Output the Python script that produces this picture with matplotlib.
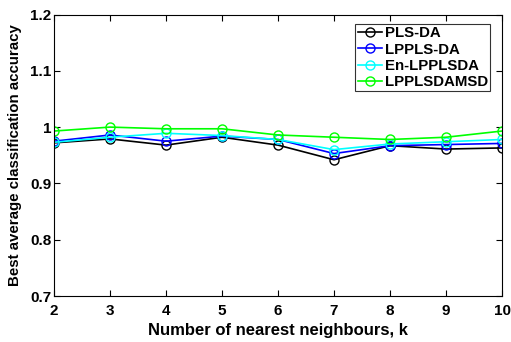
import matplotlib
matplotlib.use("Agg")
import matplotlib.pyplot as plt

plt.rcParams['font.family'] = ['Liberation Sans', 'DejaVu Sans']
plt.rcParams['font.weight'] = 'bold'

k = [2, 3, 4, 5, 6, 7, 8, 9, 10]
pls_da      = [0.972, 0.979, 0.968, 0.982, 0.968, 0.942, 0.967, 0.961, 0.963]
lppls_da    = [0.975, 0.986, 0.975, 0.984, 0.978, 0.953, 0.967, 0.969, 0.971]
en_lpplsda  = [0.973, 0.982, 0.989, 0.985, 0.978, 0.960, 0.970, 0.974, 0.978]
lpplsdamsd  = [0.993, 1.000, 0.997, 0.997, 0.986, 0.982, 0.978, 0.982, 0.993]

series = [(pls_da, 'PLS-DA', 'black'),
          (lppls_da, 'LPPLS-DA', '#0000ff'),
          (en_lpplsda, 'En-LPPLSDA', '#00ffff'),
          (lpplsdamsd, 'LPPLSDAMSD', '#00ff00')]

fig = plt.figure(figsize=(5.11, 3.42), dpi=100)
ax = fig.add_axes([0.1057, 0.1345, 0.8767, 0.8231])

for vals, name, col in series:
    ax.plot(k, vals, '-o', color=col, mfc='none', mec=col, ms=6.5, lw=1.2, mew=1.0, label=name)

ax.set_xlim(2, 10)
ax.set_ylim(0.7, 1.2)
ax.set_xticks(k)
ax.set_yticks([0.7, 0.8, 0.9, 1.0, 1.1, 1.2])
ax.set_yticklabels(['0.7', '0.8', '0.9', '1', '1.1', '1.2'])
ax.tick_params(direction='in', length=4, width=0.8, labelsize=11, top=True, right=True)
ax.tick_params(axis='x', pad=6)
ax.tick_params(axis='y', pad=2)
for s in ax.spines.values():
    s.set_linewidth(0.8)

ax.set_xlabel('Number of nearest neighbours, k', fontsize=12, fontweight='bold', labelpad=3)
ax.set_ylabel('Best average classification accuracy', fontsize=10.8, fontweight='bold', labelpad=6)

leg = ax.legend(loc='upper right', bbox_to_anchor=(0.973, 0.966), fontsize=10.8,
                frameon=True, fancybox=False, edgecolor='black', handlelength=1.6,
                handletextpad=0.2, borderpad=0.15, labelspacing=0.15, borderaxespad=0)
leg.get_frame().set_linewidth(0.8)
for t in leg.get_texts():
    t.set_fontweight('bold')

fig.savefig('out.png', dpi=100)
